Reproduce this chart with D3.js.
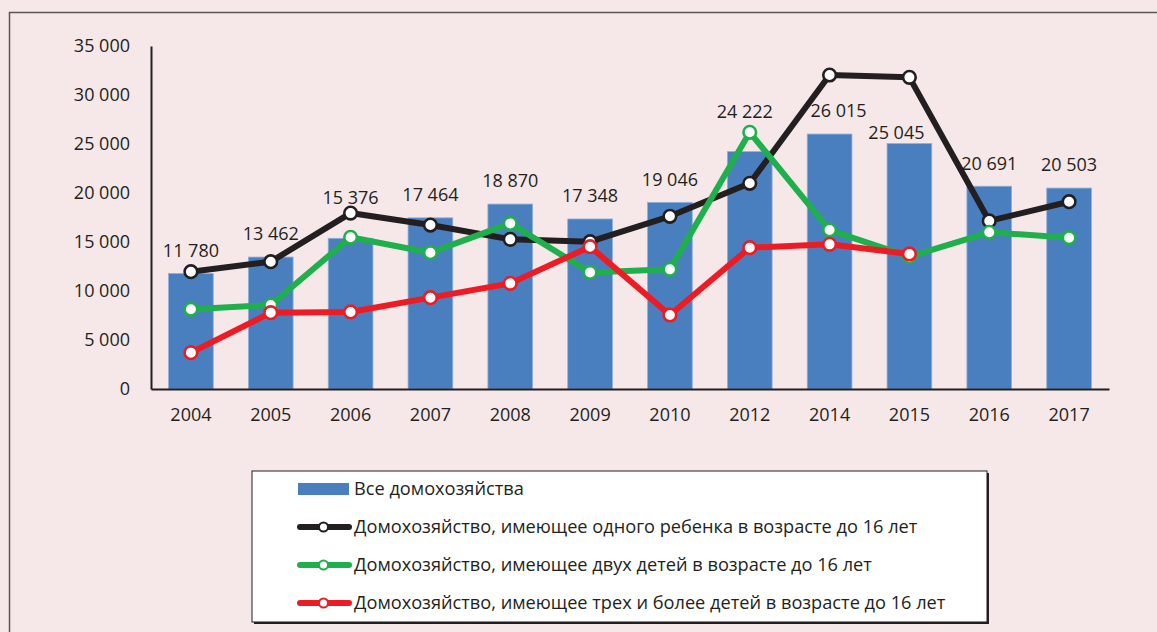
<!DOCTYPE html>
<html>
<head>
<meta charset="utf-8">
<script src="https://cdn.jsdelivr.net/npm/d3@7"></script>
<style>
body { margin: 0; background: #f6e8e8; }
svg { display: block; font-family: "Open Sans", sans-serif; }
</style>
</head>
<body>
<div class="chart"></div>
<script>
const WIDTH = 1157;
const HEIGHT = 632;

const years = ['2004', '2005', '2006', '2007', '2008', '2009', '2010', '2012', '2014', '2015', '2016', '2017'];
const allHouseholds = [11780, 13462, 15376, 17464, 18870, 17348, 19046, 24222, 26015, 25045, 20691, 20503];
const oneChild = [11970, 12990, 17950, 16730, 15270, 15030, 17620, 20990, 32040, 31800, 17150, 19110];
const twoChildren = [8130, 8570, 15480, 13910, 16900, 11900, 12210, 26190, 16220, 13500, 15990, 15440];
const threePlus = [3710, 7790, 7860, 9320, 10780, 14520, 7550, 14420, 14760, 13780, null, null];
const yTicks = [0, 5000, 10000, 15000, 20000, 25000, 30000, 35000];
const seriesNames = [
    'Все домохозяйства',
    'Домохозяйство, имеющее одного ребенка в возрасте до 16 лет',
    'Домохозяйство, имеющее двух детей в возрасте до 16 лет',
    'Домохозяйство, имеющее трех и более детей в возрасте до 16 лет'
];

const TEXT = '#231f20';
const BAR = '#4a7fbf';
const FONT_SIZE = '18px';
const lineSeries = [
    {values: oneChild, color: '#231f20', name: seriesNames[1]},
    {values: twoChildren, color: '#1fb04d', name: seriesNames[2]},
    {values: threePlus, color: '#ed1c24', name: seriesNames[3]}
];

const fmt = d3.formatLocale({decimal: ',', thousands: ' ', grouping: [3], currency: ['', '']}).format(',d');

var svg = d3.select('.chart').append('svg')
    .attr('width', WIDTH)
    .attr('height', HEIGHT);

// outer frame
svg.append('rect')
    .attr('x', 9.5).attr('y', 12.5)
    .attr('width', 1200).attr('height', 700)
    .attr('fill', 'none')
    .attr('stroke', '#5a5656')
    .attr('stroke-width', 1.5);

var x = d3.scaleBand().domain(years).range([151, 1109]).paddingInner(0.44).paddingOuter(0.22);
var y = d3.scaleLinear().domain([0, 35000]).range([389, 46]);

function cx(i) { return x(years[i]) + x.bandwidth() / 2; }

// axes
var yAxis = d3.axisLeft(y).tickValues(yTicks).tickSize(0).tickPadding(21).tickFormat(fmt);
var yAxisG = svg.append('g').attr('transform', 'translate(151,0)').call(yAxis);
yAxisG.select('.domain').attr('stroke', TEXT).attr('stroke-width', 2);
yAxisG.selectAll('text').attr('fill', TEXT).style('font-size', FONT_SIZE).style('font-family', '"Open Sans", sans-serif');

// bars
svg.append('g').selectAll('rect').data(allHouseholds).enter().append('rect')
    .attr('x', function (d, i) { return x(years[i]); })
    .attr('y', function (d) { return y(d); })
    .attr('width', x.bandwidth())
    .attr('height', function (d) { return y(0) - y(d); })
    .attr('fill', BAR)
    .attr('stroke', '#8fb0da')
    .attr('stroke-width', 0.8);

var xAxis = d3.axisBottom(x).tickSize(0).tickPadding(19);
var xAxisG = svg.append('g').attr('transform', 'translate(0,389)').call(xAxis);
xAxisG.select('.domain').attr('stroke', TEXT).attr('stroke-width', 2);
xAxisG.selectAll('text').attr('fill', TEXT).style('font-size', FONT_SIZE).style('font-family', '"Open Sans", sans-serif');

// bar value labels (a few nudged to avoid the lines, as in the source)
var labelNudge = {'2006': [0, -18], '2012': [-5, -17], '2014': [9, 0], '2015': [-13, 12]};
svg.append('g').selectAll('text').data(allHouseholds).enter().append('text')
    .attr('x', function (d, i) { return cx(i) + (labelNudge[years[i]] ? labelNudge[years[i]][0] : 0); })
    .attr('y', function (d, i) { return y(d) - 23 + (labelNudge[years[i]] ? labelNudge[years[i]][1] : 0); })
    .attr('dy', '0.35em')
    .attr('text-anchor', 'middle')
    .attr('fill', TEXT)
    .style('font-size', FONT_SIZE)
    .text(fmt);

// lines
var line = d3.line()
    .defined(function (d) { return d != null; })
    .x(function (d, i) { return cx(i); })
    .y(function (d) { return y(d); });

lineSeries.forEach(function (s) {
    var g = svg.append('g');
    g.append('path')
        .attr('d', line(s.values))
        .attr('fill', 'none')
        .attr('stroke', s.color)
        .attr('stroke-width', 6)
        .attr('stroke-linejoin', 'round');
    var pts = s.values.map(function (v, i) { return {v: v, i: i}; })
        .filter(function (p) { return p.v != null; });
    g.selectAll('circle').data(pts).enter().append('circle')
        .attr('cx', function (p) { return cx(p.i); })
        .attr('cy', function (p) { return y(p.v); })
        .attr('r', 6.3)
        .attr('fill', '#fff')
        .attr('stroke', s.color)
        .attr('stroke-width', 2.6);
});

// legend
var legend = svg.append('g');
legend.append('rect')
    .attr('x', 254).attr('y', 473).attr('width', 735).attr('height', 151)
    .attr('fill', '#231f20');
legend.append('rect')
    .attr('x', 252).attr('y', 471).attr('width', 735).attr('height', 151)
    .attr('fill', '#fff')
    .attr('stroke', '#231f20')
    .attr('stroke-width', 1);

var rowY = [489, 527, 565, 603];
legend.append('rect')
    .attr('x', 298).attr('y', rowY[0] - 6).attr('width', 51).attr('height', 12)
    .attr('fill', BAR);
lineSeries.forEach(function (s, i) {
    var ly = rowY[i + 1];
    legend.append('line')
        .attr('x1', 300).attr('x2', 349).attr('y1', ly).attr('y2', ly)
        .attr('stroke', s.color).attr('stroke-width', 6).attr('stroke-linecap', 'round');
    legend.append('circle')
        .attr('cx', 323.5).attr('cy', ly).attr('r', 4.5)
        .attr('fill', '#fff').attr('stroke', s.color).attr('stroke-width', 2);
});
legend.selectAll('text.lbl').data(seriesNames).enter().append('text')
    .attr('class', 'lbl')
    .attr('x', 354)
    .attr('y', function (d, i) { return rowY[i]; })
    .attr('dy', '0.35em')
    .attr('fill', TEXT)
    .style('font-size', '18.2px')
    .text(function (d) { return d; });
</script>
</body>
</html>
